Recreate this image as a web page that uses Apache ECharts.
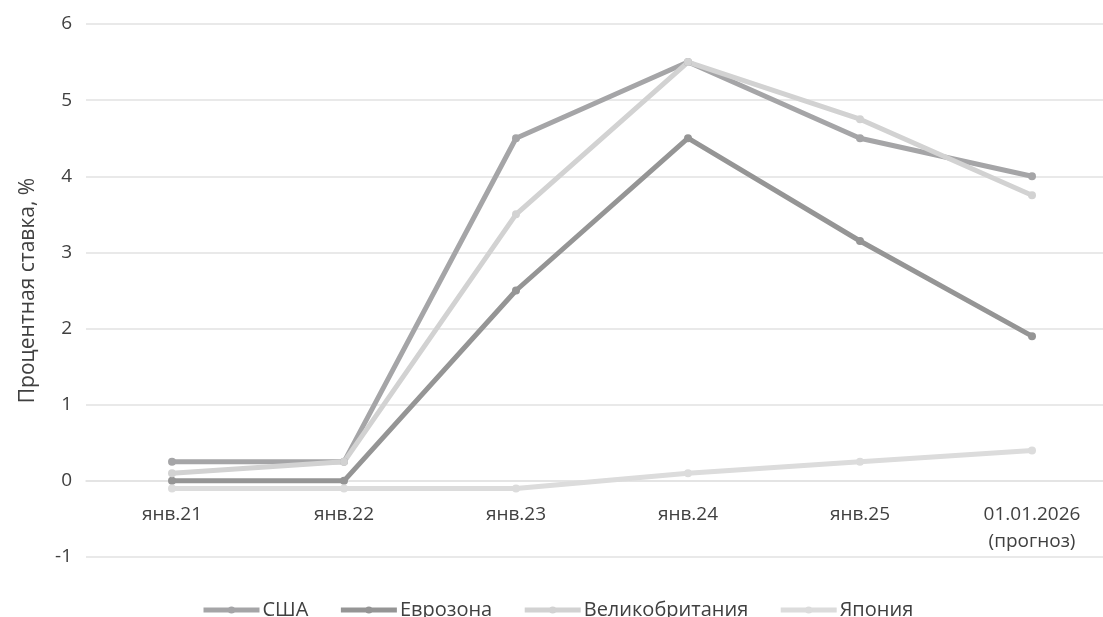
<!DOCTYPE html>
<html><head><meta charset="utf-8">
<script src="https://cdn.jsdelivr.net/npm/echarts@6/dist/echarts.min.js"></script>
<style>html,body{margin:0;padding:0;background:#fff}#c{width:1103px;height:617px}</style>
</head><body><div id="c"></div>
<script>
const categories = ['янв.21', 'янв.22', 'янв.23', 'янв.24', 'янв.25', '01.01.2026\n(прогноз)'];
const usa = [0.25, 0.25, 4.5, 5.5, 4.5, 4.0];
const eurozone = [0, 0, 2.5, 4.5, 3.15, 1.9];
const uk = [0.1, 0.25, 3.5, 5.5, 4.75, 3.75];
const japan = [-0.1, -0.1, -0.1, 0.1, 0.25, 0.4];
const seriesNames = ['США', 'Еврозона', 'Великобритания', 'Япония'];
const yAxisName = 'Процентная ставка, %';

const colors = ['#a5a5a7', '#959595', '#d2d2d2', '#dcdcdc'];
const font = 'Open Sans, Noto Sans, sans-serif';
function mk(name, data, color) {
  return {
    name, type: 'line', data,
    symbol: 'circle', symbolSize: 8,
    lineStyle: { width: 5, color },
    itemStyle: { color },
    emphasis: { disabled: true }
  };
}
const chart = echarts.init(document.getElementById('c'), null, { renderer: 'canvas' });
chart.setOption({
  animation: false,
  color: colors,
  grid: { left: 86, top: 24, width: 1032, height: 533, containLabel: false, outerBoundsMode: 'none' },
  legend: {
    data: seriesNames,
    left: 196, top: 595,
    itemWidth: 56, itemHeight: 9, itemGap: 30,
    lineStyle: { width: 5 },
    textStyle: { fontFamily: font, fontSize: 20, color: '#404040', padding: [0, 0, 0, -2] }
  },
  xAxis: {
    type: 'category', data: categories, boundaryGap: true,
    offset: -76,
    axisLine: { show: true, onZero: false, lineStyle: { color: '#e2e2e2', width: 1.5 } },
    axisTick: { show: false },
    axisLabel: { fontFamily: font, fontSize: 19, color: '#404040', margin: 20, lineHeight: 27, interval: 0 }
  },
  yAxis: {
    type: 'value', min: -1, max: 6, interval: 1,
    name: yAxisName, nameLocation: 'middle', nameGap: 47,
    nameTextStyle: { fontFamily: font, fontSize: 21, color: '#404040' },
    axisLine: { show: false }, axisTick: { show: false },
    axisLabel: { fontFamily: font, fontSize: 19, color: '#404040', margin: 14 },
    splitLine: { lineStyle: { color: '#e2e2e2', width: 1.5 } }
  },
  series: [
    mk(seriesNames[0], usa, colors[0]),
    mk(seriesNames[1], eurozone, colors[1]),
    mk(seriesNames[2], uk, colors[2]),
    mk(seriesNames[3], japan, colors[3])
  ]
});
</script></body></html>
